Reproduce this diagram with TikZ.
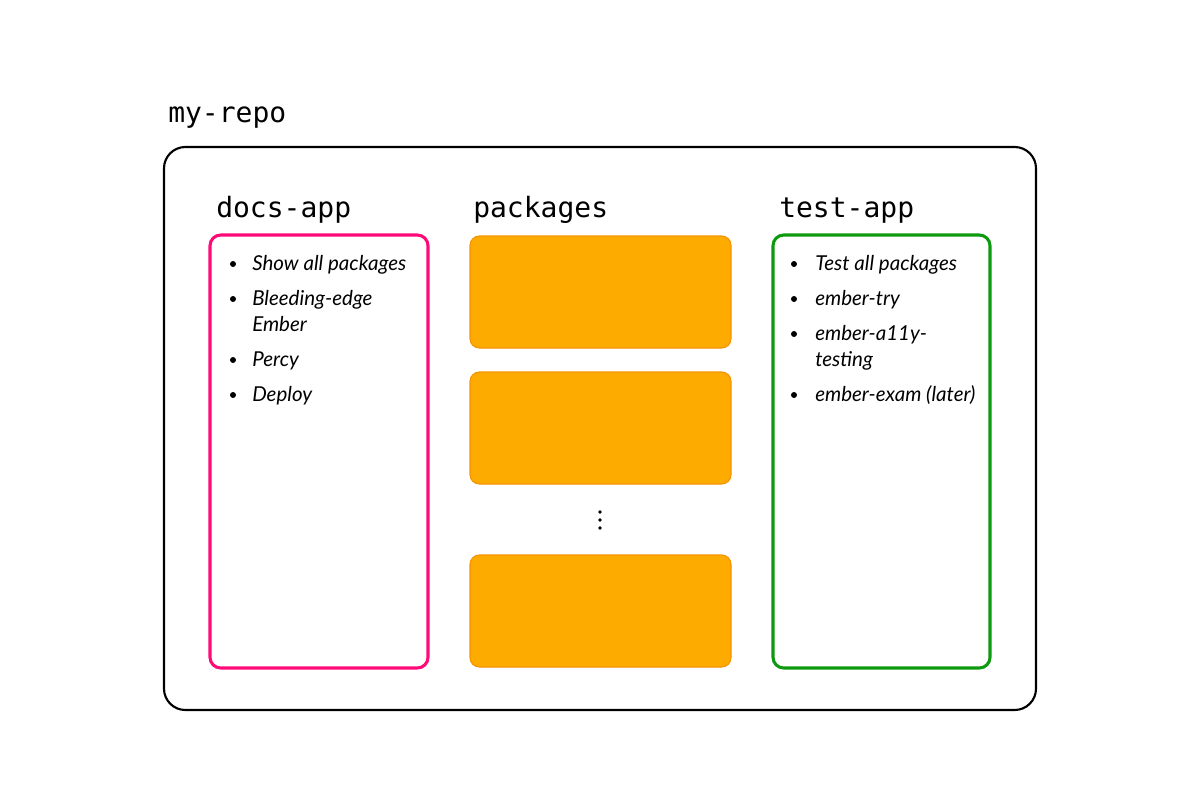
\documentclass[tikz,border=0pt]{standalone}
\usepackage{fontspec}
\setmainfont{Lato}
\setmonofont{DejaVu Sans Mono}
\definecolor{pinkc}{HTML}{FF0A78}
\definecolor{greenc}{HTML}{0E9A0E}
\definecolor{orfill}{HTML}{FEAB00}
\definecolor{ordraw}{HTML}{F59300}
\tikzset{
  heading/.style={anchor=base west, inner sep=0pt, font=\fontsize{21}{24}\selectfont\ttfamily},
  item/.style={anchor=base west, inner sep=0pt, align=left, font=\fontsize{15.4}{19.5}\selectfont\itshape},
  bul/.style={fill=black, circle, inner sep=0pt, minimum size=4.5pt},
  appbox/.style={line width=2.3pt, rounded corners=8pt},
  pkgbox/.style={fill=orfill, draw=ordraw, line width=0.8pt, rounded corners=7pt},
  outerbox/.style={draw=black, line width=1.6pt, rounded corners=16pt},
}
\begin{document}
\begin{tikzpicture}[x=0.75pt,y=-0.75pt]
\useasboundingbox (0,0) rectangle (1200,800);
\node[heading] (repo) at (168,122) {my-repo};
\draw[outerbox] (164,147) rectangle (1036,710);
\node[heading] (docs) at (216,217) {docs-app};
\node[heading] (pkgs) at (473,217) {packages};
\node[heading] (test) at (779,217) {test-app};
\draw[appbox, draw=pinkc] (210,235) rectangle (428,668);
\draw[appbox, draw=greenc] (773,235) rectangle (990,668);
\draw[pkgbox] (470,236) rectangle (731,348);
\draw[pkgbox] (470,372) rectangle (731,484);
\draw[pkgbox] (470,555) rectangle (731,667);
\foreach \yy in {512,520,528} \fill (600,\yy) circle (1.9);
% docs-app items
\node[bul] (d1b) at (233,264) {};
\node[item] (d1) at (252,270) {Show all packages};
\node[bul] (d2b) at (233,299) {};
\node[item] (d2) at (252,331) {Bleeding-edge\\Ember};
\node[bul] (d3b) at (233,360) {};
\node[item] (d3) at (252,366) {Percy};
\node[bul] (d4b) at (233,395) {};
\node[item] (d4) at (252,401) {Deploy};
% test-app items
\node[bul] (t1b) at (794,264) {};
\node[item] (t1) at (815,270) {Test all packages};
\node[bul] (t2b) at (794,299) {};
\node[item] (t2) at (815,305) {ember-try};
\node[bul] (t3b) at (794,334) {};
\node[item] (t3) at (815,366) {ember-a11y-\\testing};
\node[bul] (t4b) at (794,395) {};
\node[item] (t4) at (815,401) {ember-exam (later)};
\end{tikzpicture}
\end{document}
